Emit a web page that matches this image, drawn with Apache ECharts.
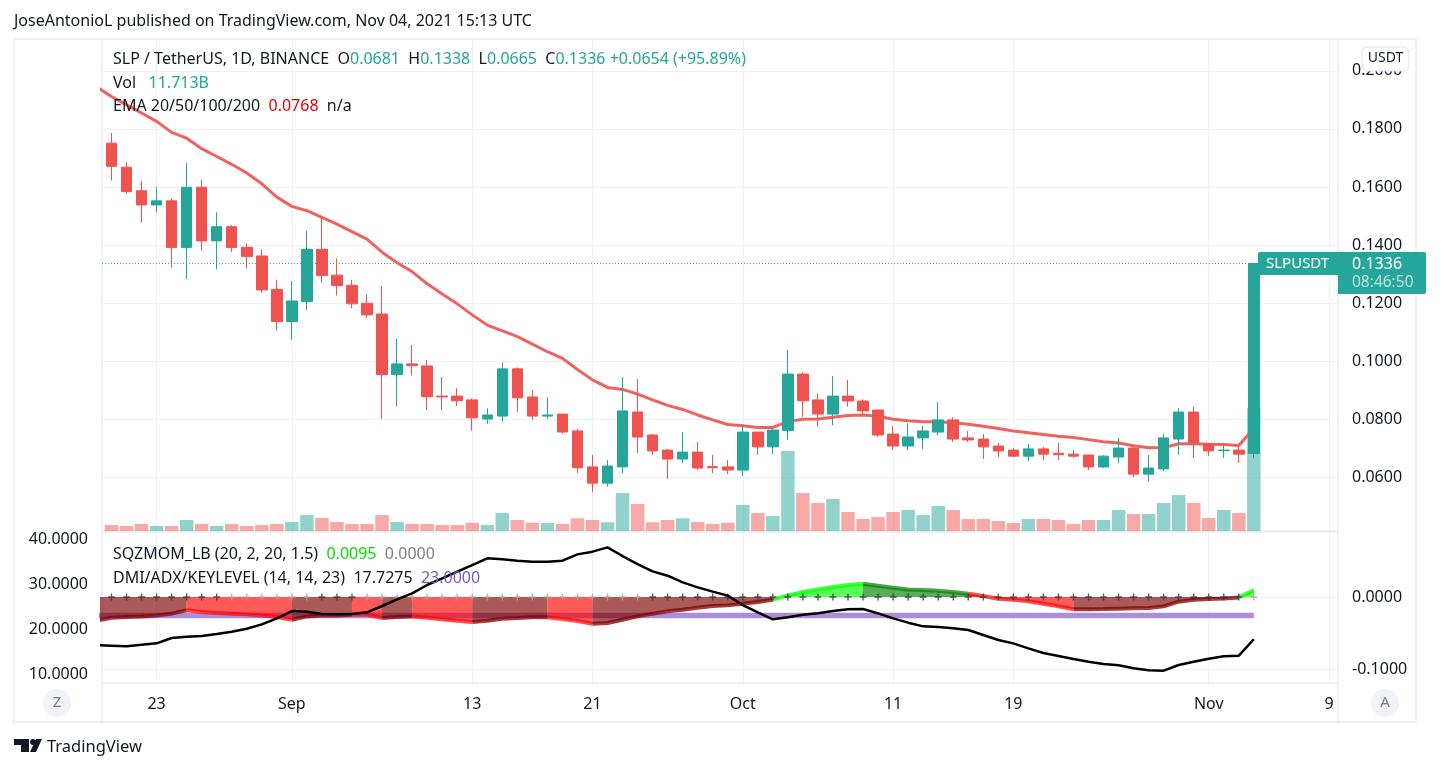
<!DOCTYPE html>
<html>
<head>
    <meta charset="utf-8">
    <title>SLP / TetherUS</title>
    <script src="https://cdn.jsdelivr.net/npm/echarts@6/dist/echarts.min.js"></script>
    <style>
        html, body { margin: 0; padding: 0; background: #fff; }
    </style>
</head>
<body>
    <div id="main" style="width: 1445px;height:770px;"></div>
    <script type="text/javascript">
        // daily candles, index 0 is Aug 20, index 76 is Nov 4
        var opens = [.1751,.1668,.1587,.1538,.1552,.1391,.1599,.1414,.1463,.1392,.1362,.1247,.1136,.1205,.1385,.1296,.1261,.1199,.1162,.0953,
            .0990,.0983,.0879,.0879,.0866,.0800,.0810,.0973,.0876,.0810,.0817,.0759,.0635,.0579,.0635,.0824,.0745,.0693,.0662,.0686,
            .0636,.0635,.0624,.0755,.0704,.0760,.0955,.0866,.0817,.0879,.0862,.0831,.0748,.0707,.0735,.0755,.0797,.0735,.0731,.0707,
            .0693,.0672,.0697,.0682,.0679,.0676,.0635,.0669,.0700,.0610,.0628,.0731,.0824,.0714,.0691,.0693,.0681];
        var closes = [.1671,.1584,.1538,.1552,.1391,.1599,.1414,.1463,.1391,.1360,.1245,.1136,.1207,.1385,.1295,.1260,.1197,.1159,.0953,.0990,
            .0984,.0877,.0876,.0863,.0804,.0814,.0973,.0873,.0810,.0814,.0755,.0632,.0579,.0638,.0828,.0738,.0690,.0662,.0686,.0631,
            .0632,.0624,.0755,.0704,.0762,.0955,.0863,.0817,.0879,.0862,.0828,.0745,.0707,.0738,.0759,.0797,.0731,.0728,.0704,.0690,
            .0672,.0697,.0679,.0677,.0672,.0635,.0672,.0700,.0610,.0631,.0735,.0824,.0717,.0690,.0693,.0679,.1336];
        var highs = [.1786,.1686,.1621,.1599,.1561,.1682,.1625,.1513,.1469,.1406,.1385,.1280,.1276,.1449,.1498,.1354,.1280,.1231,.1259,.1076,
            .1055,.1004,.0945,.0906,.0871,.0837,.0996,.0978,.0899,.0876,.0817,.0766,.0676,.0659,.0945,.0937,.0748,.0697,.0755,.0721,
            .0676,.0659,.0782,.0755,.0768,.1038,.0961,.0889,.0948,.0935,.0868,.0833,.0776,.0785,.0776,.0859,.0806,.0759,.0748,.0718,
            .0699,.0714,.0704,.0717,.0693,.0676,.0676,.0735,.0702,.0676,.0748,.0838,.0842,.0717,.0707,.0707,.1338];
        var lows = [.1622,.1576,.1477,.1512,.1322,.1282,.1381,.1316,.1376,.1319,.1236,.1105,.1073,.1176,.1270,.1226,.1181,.1149,.0800,.0843,
            .0950,.0831,.0831,.0845,.0760,.0784,.0791,.0825,.0797,.0801,.0750,.0614,.0548,.0567,.0614,.0683,.0676,.0593,.0648,.0624,
            .0614,.0610,.0603,.0676,.0679,.0728,.0808,.0774,.0779,.0843,.0813,.0739,.0693,.0693,.0697,.0745,.0721,.0721,.0662,.0669,
            .0669,.0655,.0659,.0659,.0666,.0624,.0631,.0648,.0600,.0586,.0621,.0676,.0666,.0672,.0666,.0648,.0665];
        // volume in billions
        var volumes = [.57,.48,.67,.48,.48,1.05,.67,.48,.67,.48,.57,.67,.86,1.52,1.24,.86,.67,.67,1.52,.86,
            .67,.67,.57,.57,.79,.57,1.71,1.05,.79,.76,.67,1.21,1.05,.83,3.62,2.57,.83,1.05,1.21,.86,
            .67,.79,2.48,1.71,1.43,7.62,3.62,2.67,3.05,1.81,1.14,1.33,1.81,2.0,1.52,2.38,2.0,1.14,1.14,.95,
            .76,1.14,1.14,1.05,.67,1.05,1.05,2.0,1.62,1.62,2.67,3.43,2.67,1.24,2.0,1.71,11.713];
        // the three line arrays start one day earlier (index -1), so the lines reach the pane's left edge
        var ema = [.1945,.1912,.1883,.1855,.1826,.1788,.1768,.1732,.1705,.1678,.1648,.1611,.1565,.1533,.1518,.1495,.1472,.1446,.1420,.1375,
            .1339,.1308,.1266,.1231,.1197,.1159,.1124,.1104,.1084,.1058,.1032,.1009,.0971,.0935,.0909,.0902,.0886,.0866,.0847,.0833,
            .0814,.0797,.0781,.0777,.0771,.0771,.0791,.0799,.0800,.0806,.0812,.0814,.0810,.0799,.0794,.0791,.0791,.0787,.0782,.0775,
            .0767,.0759,.0753,.0747,.0741,.0736,.0729,.0722,.0717,.0708,.0701,.0702,.0715,.0715,.0713,.0712,.0709,.0768];
        var adx = [16.44,16.30,16.15,16.52,16.81,18.00,18.30,18.44,18.89,19.41,20.07,21.04,22.37,24.00,23.85,23.33,23.26,23.33,23.70,25.11,
            26.59,27.93,29.78,31.26,32.74,34.22,35.70,35.48,35.19,34.96,34.96,35.19,36.59,37.19,38.15,36.22,34.44,32.81,31.85,30.37,
            29.26,28.30,27.41,25.33,23.70,22.15,22.59,23.19,23.48,24.00,24.37,24.44,23.48,22.37,21.41,20.59,20.44,20.15,19.78,18.67,
            17.56,16.81,15.70,14.67,14.00,13.33,12.74,12.22,11.93,11.26,10.81,10.74,12.00,12.74,13.41,13.93,14.07,17.7275];
        var momentum = [-.0330,-.0287,-.0278,-.0269,-.0255,-.0231,-.0185,-.0208,-.0222,-.0231,-.0241,-.0255,-.0278,-.0315,-.0269,-.0255,-.0255,-.0245,-.0245,-.0292,
            -.0278,-.0269,-.0287,-.0310,-.0329,-.0347,-.0329,-.0301,-.0292,-.0282,-.0282,-.0306,-.0333,-.0370,-.0361,-.0315,-.0269,-.0231,-.0199,-.0176,
            -.0148,-.0125,-.0116,-.0093,-.0069,-.0037,.0023,.0069,.0106,.0139,.0167,.0185,.0157,.0130,.0106,.0097,.0088,.0069,.0046,.0014,
            -.0023,-.0037,-.0060,-.0093,-.0130,-.0171,-.0171,-.0167,-.0162,-.0157,-.0153,-.0130,-.0065,-.0037,-.0028,-.0019,-.0005,.0095];
        var keyLevel = 23;
        var lastClose = closes[closes.length - 1];

        // colour runs of the momentum area: last index of the run, colour name
        var momRuns = [[5, 'maroon'], [12, 'red'], [16, 'maroon'], [18, 'red'], [20, 'maroon'], [24, 'red'], [29, 'maroon'], [32, 'red'],
            [44, 'maroon'], [50, 'lime'], [57, 'green'], [64, 'red'], [75, 'maroon'], [76, 'lime']];
        // days where the squeeze crosses are grey, all others are dark
        var greyCrosses = [[8, 13], [17, 35], [76, 76]];

        var dateTicks = [3, 12, 24, 32, 42, 52, 60, 73, 81];
        var dateLabels = ['23', 'Sep', '13', '21', 'Oct', '11', '19', 'Nov', '9'];
        var priceTicks = [.06, .08, .10, .12, .14, .16, .18, .20];
        var momTicks = [-.1, 0];
        var adxTicks = [10, 20, 30, 40];

        var teal = '#26a69a', red = '#ef5350', ink = '#131722', gridCol = '#eff1f4', edge = '#e0e3eb';
        var uiFont = '"Noto Sans", sans-serif';
        var momCol = {
            maroon: { fill: 'rgba(128,0,0,0.65)', line: 'rgba(128,0,0,0.75)' },
            red: { fill: 'rgba(255,0,0,0.65)', line: 'rgba(255,0,0,0.7)' },
            lime: { fill: 'rgba(0,255,0,0.65)', line: 'rgba(0,255,0,0.75)' },
            green: { fill: 'rgba(0,128,0,0.65)', line: 'rgba(0,128,0,0.7)' }
        };

        var xMin = -0.632, xMax = 81.6;

        function xAxisFor(gridIndex, showLabels) {
            return {
                type: 'value', gridIndex: gridIndex, min: xMin, max: xMax,
                axisLine: { show: false },
                axisTick: { show: false, customValues: dateTicks },
                splitLine: { show: true, lineStyle: { color: gridCol, width: 1 } },
                axisLabel: {
                    show: showLabels, customValues: dateTicks, margin: 13, color: ink,
                    fontFamily: uiFont, fontSize: 16,
                    formatter: function (v) { return dateLabels[dateTicks.indexOf(v)]; }
                }
            };
        }

        function valueAxis(gridIndex, position, min, max, ticks, grid) {
            return {
                type: 'value', gridIndex: gridIndex, position: position, min: min, max: max,
                axisLine: { show: false },
                axisTick: { show: false, customValues: ticks },
                splitLine: { show: grid, lineStyle: { color: gridCol, width: 1 } },
                axisLabel: {
                    customValues: ticks, margin: 14, color: ink, fontFamily: uiFont, fontSize: 16,
                    padding: [3, 0, 0, 0],
                    formatter: function (v) { return v.toFixed(4); }
                }
            };
        }

        var candleData = opens.map(function (o, i) { return [i, o, closes[i], lows[i], highs[i]]; });
        var volumeData = volumes.map(function (v, i) {
            return { value: [i, v], itemStyle: { color: closes[i] >= opens[i] ? 'rgba(38,166,154,0.5)' : 'rgba(239,83,80,0.5)' } };
        });
        function fromMinusOne(arr) { return arr.map(function (v, k) { return [k - 1, v]; }); }
        var momPoints = fromMinusOne(momentum);

        var series = [
            { type: 'bar', name: 'Vol', xAxisIndex: 0, yAxisIndex: 1, barWidth: 13.5, z: 1, data: volumeData },
            {
                type: 'line', name: 'LastPrice', xAxisIndex: 0, yAxisIndex: 0, z: 2, symbol: 'none',
                lineStyle: { color: teal, type: [1, 2], width: 1 },
                data: [[xMin, lastClose], [76, lastClose]]
            },
            {
                type: 'line', name: 'EMA', xAxisIndex: 0, yAxisIndex: 0, z: 2, showSymbol: false, symbol: 'none',
                lineStyle: { color: '#f0625f', width: 3 }, data: fromMinusOne(ema)
            },
            {
                type: 'candlestick', name: 'SLPUSDT', xAxisIndex: 0, yAxisIndex: 0, barWidth: 11, z: 3,
                itemStyle: { color: teal, color0: red, borderColor: teal, borderColor0: red, borderWidth: 1 },
                data: candleData
            },
            {
                type: 'line', name: 'KeyLevel', xAxisIndex: 1, yAxisIndex: 3, z: 2, symbol: 'none',
                lineStyle: { color: '#a98fd8', width: 5.5 },
                data: fromMinusOne(adx.map(function () { return keyLevel; }))
            }
        ];

        // momentum area, one series per colour run
        var runStart = 0;
        momRuns.forEach(function (run) {
            var pts = momPoints.slice(runStart, run[0] + 2);
            var col = momCol[run[1]];
            series.push({
                type: 'line', name: 'SQZMOM', xAxisIndex: 1, yAxisIndex: 2, z: 3, symbol: 'none',
                lineStyle: { color: col.line, width: 4 },
                areaStyle: { color: col.fill, opacity: 1 },
                data: pts
            });
            runStart = run[0] + 1;
        });

        function isGrey(i) {
            return greyCrosses.some(function (r) { return i >= r[0] && i <= r[1]; });
        }
        var crossPath = 'path://M4 0h2v4h4v2H6v4H4V6H0V4h4z';
        series.push({
            type: 'scatter', name: 'Squeeze', xAxisIndex: 1, yAxisIndex: 2, z: 4,
            symbol: crossPath, symbolSize: 7,
            data: closes.map(function (c, i) {
                return { value: [i, 0], itemStyle: { color: isGrey(i) ? '#a8a8a8' : '#333333' } };
            })
        });
        series.push({
            type: 'line', name: 'ADX', xAxisIndex: 1, yAxisIndex: 3, z: 5, symbol: 'none',
            lineStyle: { color: '#000000', width: 2.5 }, data: fromMinusOne(adx)
        });

        var legendFont = '16px ' + uiFont;
        var legendRich = {
            k: { fill: ink, font: legendFont },
            t: { fill: teal, font: legendFont },
            r: { fill: '#e30000', font: legendFont },
            g: { fill: '#00e000', font: legendFont },
            e: { fill: '#808080', font: legendFont },
            p: { fill: '#7e57c2', font: legendFont }
        };
        function legendText(x, y, text) {
            return { type: 'text', x: x, y: y, z: 20, style: { text: text, rich: legendRich, font: legendFont, fill: ink, verticalAlign: 'middle' } };
        }
        function roundBadge(cx, letter) {
            return [
                { type: 'circle', shape: { cx: cx, cy: 703, r: 14 }, style: { fill: '#f0f3fa' }, z: 20 },
                { type: 'text', x: cx, y: 703, z: 21, style: { text: letter, fill: '#787b86', font: '15px ' + uiFont, align: 'center', verticalAlign: 'middle' } }
            ];
        }

        var myChart = echarts.init(document.getElementById('main'));
        var option = {
            animation: false,
            backgroundColor: '#ffffff',
            grid: [
                { left: 102, top: 39, width: 1236, height: 492, show: true, borderColor: edge, borderWidth: 1, containLabel: false },
                { left: 102, top: 532, width: 1236, height: 151, show: true, borderColor: edge, borderWidth: 1, containLabel: false }
            ],
            xAxis: [xAxisFor(0, false), xAxisFor(1, true)],
            yAxis: [
                valueAxis(0, 'right', .0414, .2110, priceTicks, true),
                { type: 'value', gridIndex: 0, min: 0, max: 46.84, show: false },
                valueAxis(1, 'right', -.1194, .0903, momTicks, true),
                valueAxis(1, 'left', 8, 41.56, adxTicks, false)
            ],
            series: series,
            graphic: [
                { type: 'rect', shape: { x: 14, y: 39, width: 1402, height: 683 }, style: { fill: 'none', stroke: gridCol, lineWidth: 2 }, z: 10 },
                { type: 'line', shape: { x1: 1338, y1: 683, x2: 1338, y2: 722 }, style: { stroke: edge, lineWidth: 1 }, z: 10 },
                { type: 'line', shape: { x1: 102, y1: 683, x2: 102, y2: 722 }, style: { stroke: edge, lineWidth: 1 }, z: 10 },
                { type: 'text', x: 14, y: 21, z: 20, style: { text: 'JoseAntonioL published on TradingView.com, Nov 04, 2021 15:13 UTC', fill: ink, font: legendFont, verticalAlign: 'middle' } },
                legendText(113, 59, '{k|SLP / TetherUS, 1D, BINANCE  O}{t|0.0681}{k|  H}{t|0.1338}{k|  L}{t|0.0665}{k|  C}{t|0.1336}{t| +0.0654 (+95.89%)}'),
                legendText(113, 83, '{k|Vol}{t|   11.713B}'),
                legendText(113, 106, '{k|EMA 20/50/100/200}{r|  0.0768}{k|  n/a}'),
                legendText(113, 554, '{k|SQZMOM_LB (20, 2, 20, 1.5)}{g|  0.0095}{e|  0.0000}'),
                legendText(113, 578, '{k|DMI/ADX/KEYLEVEL (14, 14, 23)}{k|  17.7275}{p|  23.0000}'),
                // last price label
                { type: 'rect', shape: { x: 1258, y: 252, width: 80, height: 23, r: [2, 0, 0, 0] }, style: { fill: teal }, z: 12 },
                { type: 'rect', shape: { x: 1338, y: 252, width: 88, height: 42, r: [0, 2, 2, 0] }, style: { fill: teal }, z: 12 },
                { type: 'text', x: 1266, y: 264, z: 13, style: { text: 'SLPUSDT', fill: '#ffffff', font: '15px ' + uiFont, verticalAlign: 'middle' } },
                { type: 'text', x: 1352, y: 264, z: 13, style: { text: lastClose.toFixed(4), fill: '#ffffff', font: legendFont, verticalAlign: 'middle' } },
                { type: 'text', x: 1352, y: 283, z: 13, style: { text: '08:46:50', fill: 'rgba(255,255,255,0.7)', font: '15.5px ' + uiFont, verticalAlign: 'middle' } },
                // currency button
                { type: 'rect', shape: { x: 1362, y: 47, width: 47, height: 24, r: 5 }, style: { fill: '#ffffff', stroke: '#e0e3eb', lineWidth: 1 }, z: 14 },
                { type: 'text', x: 1385.5, y: 58.5, z: 15, style: { text: 'USDT', fill: ink, font: '14px ' + uiFont, align: 'center', verticalAlign: 'middle' } }
            ].concat(roundBadge(57, 'Z'), roundBadge(1385, 'A'), [
                // TradingView logo
                { type: 'polygon', shape: { points: [[14, 739], [29, 739], [29, 752], [21, 752], [21, 745], [14, 745]] }, style: { fill: ink }, z: 20 },
                { type: 'circle', shape: { cx: 33, cy: 742, r: 3 }, style: { fill: ink }, z: 20 },
                { type: 'polygon', shape: { points: [[36, 739], [42, 739], [36, 752], [30, 752]] }, style: { fill: ink }, z: 20 },
                { type: 'text', x: 47, y: 747, z: 20, style: { text: 'TradingView', fill: ink, font: '16.5px ' + uiFont, verticalAlign: 'middle' } }
            ])
        };
        myChart.setOption(option);
    </script>
</body>
</html>
